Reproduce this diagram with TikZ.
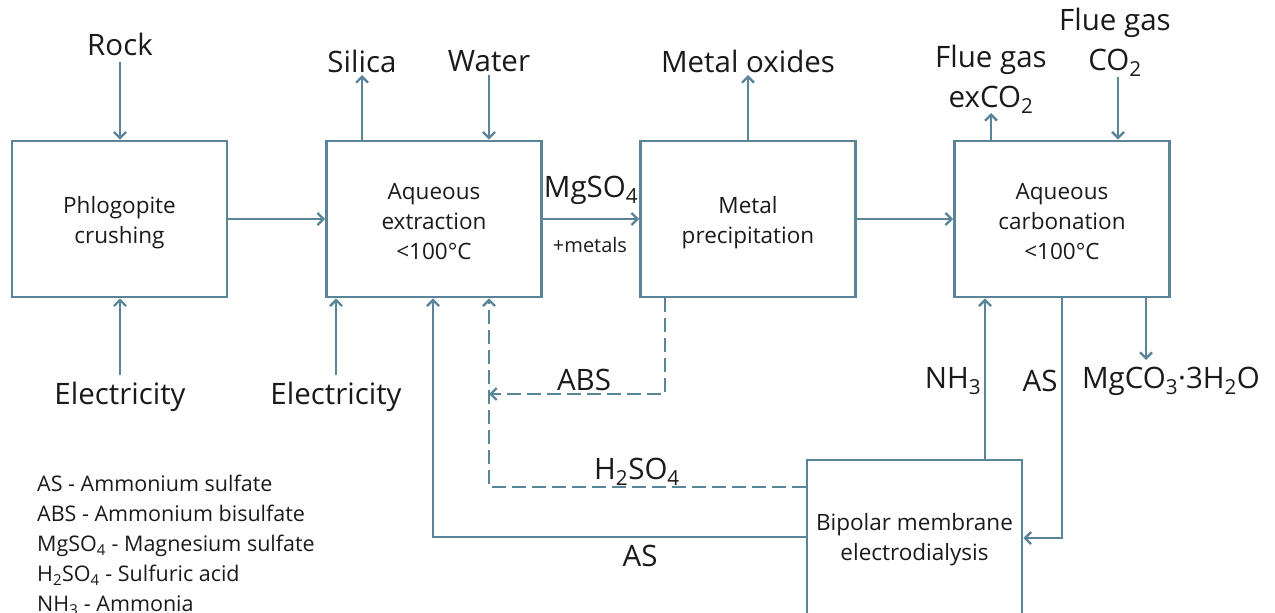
\documentclass[tikz,border=0pt]{standalone}
\usepackage{fontspec}
\setmainfont{Open Sans}
\usetikzlibrary{arrows.meta}
\definecolor{flow}{HTML}{5A8599}
\definecolor{txt}{HTML}{1A1A1A}
\tikzset{
  proc/.style={draw=flow, line width=2.7pt, minimum width=215pt, minimum height=156pt, inner sep=0pt, align=center, font=\fontsize{22.5}{30}\selectfont, text=txt},
  boxtxt/.style={inner sep=0pt, align=center, font=\fontsize{22.5}{30}\selectfont, text=txt},
  flowline/.style={draw=flow, line width=2.7pt},
  arr/.style={flowline, -{Straight Barb[length=6pt,width=12pt,line width=2.4pt]}},
  dash line/.style={dash pattern=on 14pt off 6pt},
  biglbl/.style={font=\fontsize{29.5}{40}\selectfont, text=txt, inner sep=0pt, align=center},
  smlbl/.style={font=\fontsize{20}{24}\selectfont, text=txt, inner sep=0pt},
  legend/.style={font=\fontsize{21.5}{30}\selectfont, text=txt, inner sep=0pt, align=left, anchor=north west}
}
\begin{document}
\begin{tikzpicture}[x=1pt,y=-1pt]
\useasboundingbox (0,0) rectangle (1275,613);
% boxes
\node[proc] (crush) at (119.5,219) {};
\node[boxtxt] (crushtxt) at (119.5,223) {Phlogopite\\crushing};
\node[proc] (extr) at (434,219) {};
\node[boxtxt] (extrtxt) at (434,222) {Aqueous\\extraction\\<100°C};
\node[proc] (prec) at (748,219) {};
\node[boxtxt] (prectxt) at (748,223) {Metal\\precipitation};
\node[proc] (carb) at (1062,219) {};
\node[boxtxt] (carbtxt) at (1062,222) {Aqueous\\carbonation\\<100°C};
\node[proc, minimum height=175pt] (bmed) at (914.5,547.5) {};
\node[boxtxt] (bmedtxt) at (914.5,540) {Bipolar membrane\\electrodialysis};
% labels
\node[biglbl] (rock) at (120,44) {Rock};
\node[biglbl] (elec1) at (120,397) {Electricity};
\node[biglbl] (elec2) at (336,397) {Electricity};
\node[biglbl] (silica) at (362,61) {Silica};
\node[biglbl] (water) at (489,61) {Water};
\node[biglbl] (mox) at (748,61) {Metal oxides};
\node[biglbl] (fgex) at (991,79) {Flue gas\\exCO\textsubscript{2}};
\node[biglbl] (fgco) at (1115,42) {Flue gas\\CO\textsubscript{2}};
\node[biglbl] (mgco) at (1171,381) {MgCO\textsubscript{3}·3H\textsubscript{2}O};
\node[biglbl] (nh3) at (953,381) {NH\textsubscript{3}};
\node[biglbl] (as1) at (1040,381) {AS};
\node[biglbl] (abs) at (584,380) {ABS};
\node[biglbl] (h2so4) at (637,472) {H\textsubscript{2}SO\textsubscript{4}};
\node[biglbl] (as2) at (640,556) {AS};
\node[biglbl] (mgso4) at (591,190) {MgSO\textsubscript{4}};
\node[smlbl] (metals) at (590,245) {+metals};
% helper coordinates
\coordinate (rockE) at (120,62);
\coordinate (e1E) at (120,375);
\coordinate (e2E) at (336,375);
\coordinate (silE) at (362,75);
\coordinate (watE) at (489,75);
\coordinate (moxE) at (748,75);
\coordinate (fgexE) at (991,113);
\coordinate (fgcoE) at (1118,77);
\coordinate (mgcoE) at (1146,360);
% arrows
\draw[arr] (rockE) -- (rockE |- crush.north);
\draw[arr] (e1E) -- (e1E |- crush.south);
\draw[arr] (e2E) -- (e2E |- extr.south);
\draw[arr] (silE |- extr.north) -- (silE);
\draw[arr] (watE) -- (watE |- extr.north);
\draw[arr] (crush.east) -- (extr.west);
\draw[arr] (extr.east) -- (prec.west);
\draw[arr] (moxE |- prec.north) -- (moxE);
\draw[arr] (prec.east) -- (carb.west);
\draw[arr] (fgexE |- carb.north) -- (fgexE);
\draw[arr] (fgcoE) -- (fgcoE |- carb.north);
\draw[arr] (mgcoE |- carb.south) -- (mgcoE);
\draw[arr] (985,0 |- bmed.north) -- (985,0 |- carb.south);
\draw[arr] (1062,0 |- carb.south) |- (bmed.east |- 0,538);
\draw[arr, dash line] (665,0 |- prec.south) |- (489,394);
\draw[arr, dash line] (bmed.west |- 0,487) -| (489,0 |- extr.south);
\draw[arr] (bmed.west |- 0,537) -| (433,0 |- extr.south);
% legend
\node[legend] (leg) at (37,475) {AS - Ammonium sulfate\\ABS - Ammonium bisulfate\\MgSO\textsubscript{4} - Magnesium sulfate\\H\textsubscript{2}SO\textsubscript{4} - Sulfuric acid\\NH\textsubscript{3} - Ammonia};
\end{tikzpicture}
\end{document}
